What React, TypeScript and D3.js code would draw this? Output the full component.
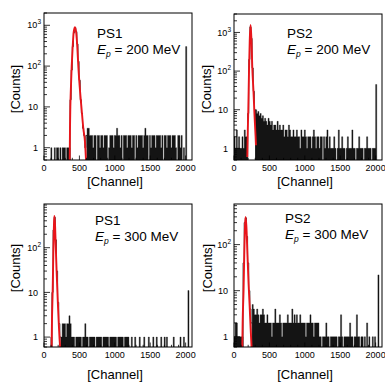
import React from 'react';
import * as d3 from 'd3';

// ---------- data ----------
const BIN_WIDTH = 16; // channels per histogram bin
const CHANNEL_MAX = 2090;
const X_TICKS = [0, 500, 1000, 1500, 2000];

// counts per 16-channel bin (128 bins, channels 0..2047)
const countsPS1_200 = [
  0,0,0,0,0,0,1,0,0,1,0,1,1,0,1,0,1,1,1,0,1,1,1,
  15,80,300,650,880,700,350,130,45,15,7,3,2,1,2,
  3,3,2,
  2,2,1,2,2,0,2,2,1,2,
  2,1,2,2,2,0,1,2,2,2,
  1,2,2,3,2,2,1,2,0,2,
  2,2,1,2,2,2,1,2,2,0,
  2,1,2,2,2,2,1,2,3,2,
  2,0,2,1,2,2,2,1,2,2,
  2,2,1,2,0,2,2,1,2,2,
  2,1,2,2,2,1,0,2,2,1,
  2,
  0,1,0,
  300,
  0,0,
];

const countsPS2_200 = [
  2,1,3,1,2,1,1,2,1,3,2,2,
  8,200,1400,700,120,30,10,
  10,8,9,7,8,6,7,5,6,5,4,6,5,
  4,5,3,4,4,3,5,3,4,3,3,4,2,3,3,2,4,3,2,
  2,3,2,2,3,2,2,1,3,2,2,3,2,1,2,
  2,2,1,2,3,2,1,2,2,1,2,2,0,2,1,2,3,1,2,1,
  1,1,2,1,0,1,3,1,1,2, 1,1,0,1,2,1,1,1,3,1, 1,0,1,1,2,1,1,1,0,1, 1,2,1,1,1,0,1,1,1,
  45,
  0,0,
];

const countsPS1_300 = [
  0,0,0,0,0,0,1,
  10,250,480,150,30,6,2,1,
  1,2,2,2,1,2,2,3,2,
  1,1,1,0,1,1,1,1,1,0, 1,1,2,1,1,0,1,1,1,1, 1,0,1,1,1,1,1,0,1,1, 1,1,1,0,1,1,1,1,1,1, 0,1,1,1,1,1,0,1,1,1, 1,0,
  0,1,0,0,1,0,0,0,1,0, 0,0,1,0,0,0,1,0,0,0, 1,0,0,1,0,0,0,1,0,0, 1,0,1,0,0,0,0,0,1,0, 0,0,0,0,1,0,0,1,0,
  0,0,
  11,
];

const countsPS2_300 = [
  1,2,2,1,1,1,1,1,
  40,300,380,150,40,10,4,2,5,
  4,3,3,4,3,2,3,3,4,3,
  2,2,3,2,2,2,1,2,2,4,2,2,2,3,2,1,2,2,2,2,3,2,2,
  2,4,2,
  3,2,3,2,2,3,2,2,
  2,2,1,2,2,2,3,2,2,1,2,2,2,2,
  1,1,0,1,1,1,2,1,1,0, 1,1,1,1,1,1,0,1,1,3,
  1,0,1,1,1,1,1,2,1,1, 0,1,1,3,1,1,0,1,1,0,
  1,0,2,0,1,0,0,1,0,1,
  0,0,
  22,
];

// fitted peak curves: [channel, counts]
const fitPS1_200: [number, number][] = [
  [363,0.5],[367,3],[372,10],[380,30],[391,97],[405,300],[420,700],[438,900],
  [455,650],[470,300],[485,97],[505,30],[532,8.4],[555,3],[580,1.3],[593,0.5],
];
const fitPS2_200: [number, number][] = [
  [188,0.6],[195,3],[202,10],[212,100],[222,600],[235,1560],[247,600],
  [258,130],[275,30],[290,7],[305,2],[310,1.2],
];
const fitPS1_300: [number, number][] = [
  [108,0.6],[112,2],[122,10],[132,80],[140,300],[146,510],[155,350],
  [165,120],[180,25],[195,6],[210,1.8],[220,0.9],[228,0.6],
];
const fitPS2_300: [number, number][] = [
  [117,0.6],[122,2],[135,10],[145,60],[155,250],[164,400],[175,250],
  [190,60],[205,15],[220,5],[235,1.5],[248,0.6],
];

const panelNames = ['PS1', 'PS2', 'PS1', 'PS2'];
const panelEnergies = ['200', '200', '300', '300'];
const panelCounts = [countsPS1_200, countsPS2_200, countsPS1_300, countsPS2_300];
const panelFits = [fitPS1_200, fitPS2_200, fitPS1_300, fitPS2_300];
const panelYDomains: [number, number][] = [[0.5, 2000], [0.5, 3000], [0.6, 950], [0.6, 760]];
const panelFitRanges: [number, number][] = [[368, 608], [192, 304], [112, 240], [128, 256]];

// ---------- layout ----------
const LAYOUT = [
  { left: 44, right: 192, top: 13, bottom: 160, legX: 97, legY: 38, chanY: 186, countsX: 20, countsY: 89 },
  { left: 234, right: 382, top: 14, bottom: 160, legX: 287, legY: 38, chanY: 186, countsX: 211, countsY: 89 },
  { left: 44, right: 192, top: 204, bottom: 347, legX: 95, legY: 225, chanY: 379, countsX: 20, countsY: 268 },
  { left: 234, right: 382, top: 204, bottom: 347, legX: 285, legY: 223, chanY: 379, countsX: 212, countsY: 268 },
];

const FONT = '"Liberation Sans", Arial, Helvetica, sans-serif';
const RED = '#e8151b';
const INK = '#141414';

function Panel({ idx }: { idx: number }) {
  const L = LAYOUT[idx];
  const counts = panelCounts[idx];
  const fit = panelFits[idx];
  const [fLo, fHi] = panelFitRanges[idx];
  const x = d3.scaleLinear().domain([0, CHANNEL_MAX]).range([L.left, L.right]);
  const y = d3.scaleLog().domain(panelYDomains[idx]).range([L.bottom, L.top]);
  const [ymin, ymax] = panelYDomains[idx];
  const clipId = `clip${idx}`;

  // filled histogram (outside fit range) as one path of contiguous runs
  let filled = '';
  let open = false;
  counts.forEach((c, i) => {
    const lo = i * BIN_WIDTH;
    const inFit = lo >= fLo && lo < fHi;
    const on = c > 0 && !inFit;
    if (on) {
      if (!open) { filled += `M${x(lo)},${L.bottom}`; open = true; }
      filled += `V${y(c)}H${x(lo + BIN_WIDTH)}`;
    } else if (open) {
      filled += `V${L.bottom}Z`;
      open = false;
    }
  });
  if (open) filled += `V${L.bottom}Z`;

  // outline for peak bins
  let outline = `M${x(fLo)},${L.bottom}`;
  counts.forEach((c, i) => {
    const lo = i * BIN_WIDTH;
    if (lo < fLo || lo >= fHi) return;
    const yv = c > 0 ? y(c) : L.bottom;
    outline += `V${yv}H${x(lo + BIN_WIDTH)}`;
  });
  outline += `V${L.bottom}`;

  const fitLine = d3.line<[number, number]>()
    .x(d => x(d[0]))
    .y(d => y(d[1]))
    .curve(d3.curveMonotoneX)(fit) || '';

  // y ticks
  const yTicks: { v: number; major: boolean }[] = [];
  for (let k = Math.floor(Math.log10(ymin)); k <= Math.ceil(Math.log10(ymax)); k++) {
    for (let m = 1; m <= 9; m++) {
      const v = m * Math.pow(10, k);
      if (v >= ymin * 0.999 && v <= ymax * 1.001) yTicks.push({ v, major: m === 1 });
    }
  }
  const xMinor: number[] = [];
  for (let v = 0; v <= CHANNEL_MAX; v += 100) xMinor.push(v);

  const yLabel = (v: number) => {
    const e = Math.round(Math.log10(v));
    if (e <= 1) {
      return (
        <text key={`yl${v}`} x={L.left - 6} y={y(v) + 3.2} textAnchor="end" fontSize={9} fontFamily={FONT} fill="#000">
          {e === 0 ? '1' : '10'}
        </text>
      );
    }
    return (
      <text key={`yl${v}`} x={L.left - 3} y={y(v) + 3.2} textAnchor="end" fontSize={9} fontFamily={FONT} fill="#000">
        10<tspan fontSize={6.5} dy={-4}>{e}</tspan>
      </text>
    );
  };

  return (
    <g>
      <defs>
        <clipPath id={clipId}>
          <rect x={L.left} y={L.top} width={L.right - L.left} height={L.bottom - L.top} />
        </clipPath>
      </defs>
      <g clipPath={`url(#${clipId})`}>
        <path d={filled} fill={INK} stroke={INK} strokeWidth={0.35} />
        <path d={outline} fill="none" stroke={INK} strokeWidth={0.8} />
        <path d={fitLine} fill="none" stroke={RED} strokeWidth={1.9} />
      </g>
      {/* frame */}
      <rect x={L.left} y={L.top} width={L.right - L.left} height={L.bottom - L.top} fill="none" stroke="#000" strokeWidth={1} />
      {/* y ticks */}
      {yTicks.map(t => (
        <line key={`yt${t.v}`} x1={L.left} x2={L.left + (t.major ? 6 : 3)} y1={y(t.v)} y2={y(t.v)} stroke="#000" strokeWidth={0.8} />
      ))}
      {yTicks.filter(t => t.major).map(t => yLabel(t.v))}
      {/* x ticks */}
      {xMinor.map(v => (
        <line key={`xt${v}`} x1={x(v)} x2={x(v)} y1={L.bottom} y2={L.bottom - (v % 500 === 0 ? 4.5 : 2.2)} stroke="#000" strokeWidth={0.8} />
      ))}
      {X_TICKS.map(v => (
        <text key={`xl${v}`} x={x(v)} y={L.bottom + 11} textAnchor="middle" fontSize={9} fontFamily={FONT} fill="#000">{v}</text>
      ))}
      {/* axis titles */}
      <text x={(L.left + L.right) / 2 - 3} y={L.chanY} textAnchor="middle" fontSize={13} fontFamily={FONT} fill="#000">[Channel]</text>
      <text transform={`translate(${L.countsX},${L.countsY}) rotate(-90)`} textAnchor="middle" fontSize={13} fontFamily={FONT} fill="#000">[Counts]</text>
      {/* legend */}
      <text x={L.legX} y={L.legY} fontSize={13.5} fontFamily={FONT} fill="#000">{panelNames[idx]}</text>
      <text x={L.legX} y={L.legY + 15.5} fontSize={13.5} fontFamily={FONT} fill="#000">
        <tspan fontStyle="italic">E</tspan>
        <tspan fontStyle="italic" fontSize={8.5} dy={3}>p</tspan>
        <tspan dy={-3}>{` = ${panelEnergies[idx]} MeV`}</tspan>
      </text>
    </g>
  );
}

export default function App() {
  return (
    <svg width={385} height={383} viewBox="0 0 385 383" style={{ display: 'block', position: 'absolute', left: 0, top: 0, background: '#fff' }}>
      <rect x={0} y={0} width={385} height={383} fill="#fff" />
      {[0, 1, 2, 3].map(i => <Panel key={i} idx={i} />)}
    </svg>
  );
}
